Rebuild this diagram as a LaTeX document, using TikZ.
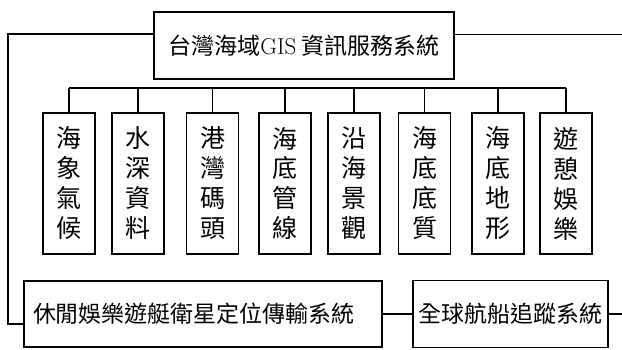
\documentclass[tikz,border=0pt]{standalone}
\usepackage{fontspec}
\newfontfamily\cjk{Noto Sans CJK TC}
\usepackage{tikz}
\tikzstyle{edge} = [draw,line width=1.2pt]
\tikzstyle{box} = [edge,inner sep=0pt,font=\cjk\fontsize{23}{30}\selectfont,align=center]
\tikzstyle{item} = [box,minimum width=52pt,minimum height=141pt,font=\cjk\fontsize{25}{30}\selectfont]

\begin{document}
\begin{tikzpicture}[x=1pt,y=-1pt]
    \useasboundingbox (0,0) rectangle (622,350);

    \node[box,minimum width=300pt,minimum height=67pt] (sys) at (304,45.5) {台灣海域{\rmfamily GIS} 資訊服務系統};

    \node[item] (hx) at (69,183.5) {海\\象\\氣\\候};
    \node[item] (ss) at (138,183.5) {水\\深\\資\\料};
    \node[item] (gw) at (212.5,183.5) {港\\灣\\碼\\頭};
    \node[item] (gx) at (285,183.5) {海\\底\\管\\線};
    \node[item] (jg) at (354,183.5) {沿\\海\\景\\觀};
    \node[item] (dz) at (424.5,183.5) {海\\底\\底\\質};
    \node[item] (dx) at (498,183.5) {海\\底\\地\\形};
    \node[item] (yq) at (566,183.5) {遊\\憩\\娛\\樂};

    \node[box,minimum width=358pt,minimum height=66pt,text width=340pt,align=left] (gps) at (203,314) {休閒娛樂遊艇衛星定位傳輸系統};
    \node[box,minimum width=195pt,minimum height=67pt] (track) at (510.5,314) {全球航船追蹤系統};

    \coordinate (bus) at (0,88);
    \coordinate (rail) at (8,0);
    \coordinate (redge) at (622,0);
    \coordinate (tl) at ([yshift=11.5pt]sys.west);
    \coordinate (tr) at ([yshift=11pt]sys.east);
    \coordinate (bl) at ([yshift=-10pt]gps.west);

    \draw[edge] (hx.north |- bus) -- (yq.north |- bus);
    \draw[edge] (hx.north) -- (hx.north |- bus);
    \draw[edge] (ss.north) -- (ss.north |- bus);
    \draw[edge] (gw.north) -- (gw.north |- bus);
    \draw[edge] (gx.north) -- (gx.north |- bus);
    \draw[edge] (jg.north) -- (jg.north |- bus);
    \draw[edge] (dz.north) -- (dz.north |- bus);
    \draw[edge] (dx.north) -- (dx.north |- bus);
    \draw[edge] (yq.north) -- (yq.north |- bus);

    \draw[edge] (tl) -| (rail |- bl) -- (bl);
    \draw[edge] (tr) -- (tr -| redge);
    \draw[edge] (gps.east) -- (track.west);
    \draw[edge] (track.east) -- (track.east -| redge);

\end{tikzpicture}
\end{document}
